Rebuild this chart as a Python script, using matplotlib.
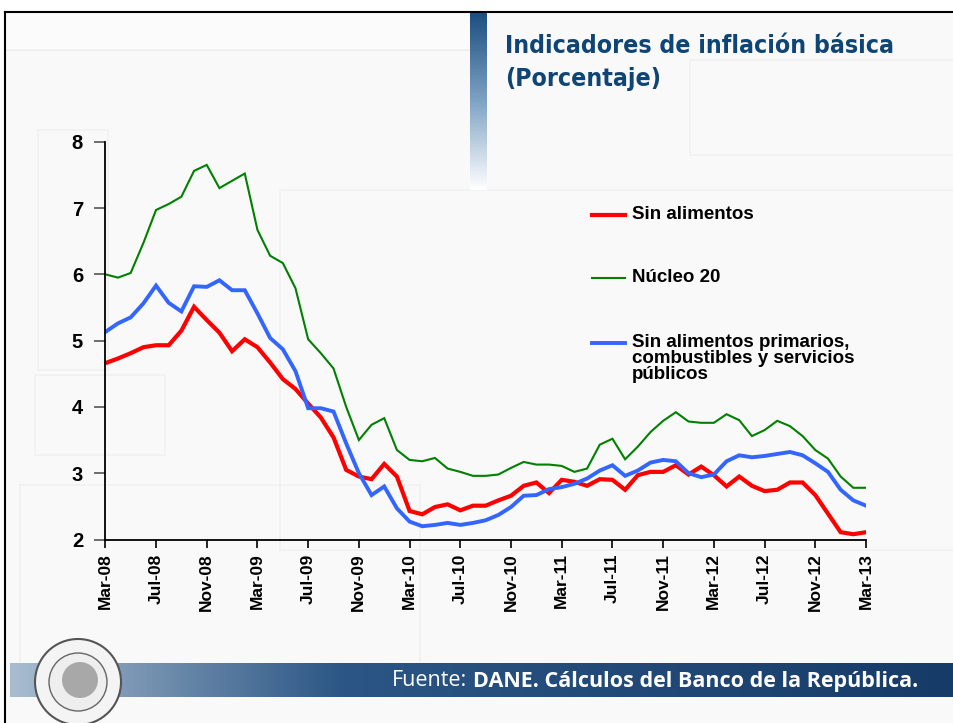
import numpy as np
import pandas as pd
import matplotlib
matplotlib.use("Agg")
import matplotlib.pyplot as plt
from matplotlib.patches import Rectangle, Circle
from matplotlib.lines import Line2D

# datos mensuales, mar-08 a mar-13 (porcentaje)
meses = pd.date_range("2008-03-01", periods=61, freq="MS").strftime("%b-%y").tolist()

sin_alimentos = [4.66, 4.73, 4.81, 4.90, 4.93, 4.93, 5.15, 5.51, 5.31, 5.12,
                 4.84, 5.02, 4.90, 4.67, 4.42, 4.27, 4.05, 3.84, 3.54, 3.05,
                 2.95, 2.91, 3.14, 2.95, 2.43, 2.38, 2.49, 2.53, 2.44, 2.51,
                 2.51, 2.59, 2.66, 2.81, 2.86, 2.70, 2.90, 2.87, 2.81, 2.91,
                 2.90, 2.75, 2.97, 3.02, 3.02, 3.12, 2.98, 3.10, 2.97, 2.80,
                 2.95, 2.81, 2.73, 2.75, 2.86, 2.86, 2.67, 2.39, 2.11, 2.08,
                 2.11]

nucleo_20 = [6.00, 5.95, 6.02, 6.47, 6.97, 7.06, 7.17, 7.56, 7.65, 7.30,
             7.41, 7.52, 6.67, 6.28, 6.17, 5.79, 5.02, 4.81, 4.58, 4.00,
             3.50, 3.73, 3.83, 3.35, 3.20, 3.18, 3.23, 3.07, 3.02, 2.96,
             2.96, 2.98, 3.08, 3.17, 3.13, 3.13, 3.11, 3.02, 3.07, 3.43,
             3.52, 3.21, 3.40, 3.62, 3.79, 3.92, 3.78, 3.76, 3.76, 3.89,
             3.80, 3.56, 3.65, 3.79, 3.71, 3.56, 3.35, 3.22, 2.95, 2.78,
             2.78]

sin_primarios = [5.13, 5.26, 5.35, 5.56, 5.83, 5.57, 5.44, 5.82, 5.81, 5.91,
                 5.76, 5.76, 5.41, 5.04, 4.87, 4.54, 3.98, 3.98, 3.93, 3.45,
                 3.00, 2.67, 2.80, 2.47, 2.27, 2.20, 2.22, 2.25, 2.22, 2.25,
                 2.29, 2.37, 2.49, 2.66, 2.67, 2.76, 2.79, 2.84, 2.92, 3.04,
                 3.12, 2.96, 3.04, 3.16, 3.20, 3.18, 3.00, 2.94, 2.98, 3.18,
                 3.27, 3.24, 3.26, 3.29, 3.32, 3.27, 3.15, 3.02, 2.75, 2.59,
                 2.51]

etiquetas = ["Sin alimentos", "Núcleo 20",
             "Sin alimentos primarios,\ncombustibles y servicios\npúblicos"]
colores = ["#ff0000", "#008000", "#3366ff"]
grosor = [3.0, 1.5, 2.8]

W, H = 954, 723
fig = plt.figure(figsize=(W / 100, H / 100), dpi=100)
fig.patch.set_facecolor("white")

# fondo de la diapositiva en coordenadas de pixel
bg = fig.add_axes([0, 0, 1, 1], zorder=-5)
bg.set_xlim(0, W)
bg.set_ylim(H, 0)
bg.axis("off")
bg.add_patch(Rectangle((5, 12), W - 5, H - 12, facecolor="#f9f9f9", edgecolor="none"))
bg.add_patch(Rectangle((5, 12), 465, 38, facecolor="#fbfbfb", edgecolor="none"))
for (x0, y0, w, h) in [(38, 130, 70, 240), (35, 375, 130, 80),
                       (280, 190, 674, 360), (690, 60, 264, 95), (20, 485, 400, 180)]:
    bg.add_patch(Rectangle((x0, y0), w, h, facecolor="none", edgecolor="#f1f1f1", lw=1.2))
bg.plot([5, 470], [50, 50], color="#eeeeee", lw=1.2)
bg.plot([5, 5], [12, H], color="black", lw=1.5)
bg.plot([5, W], [12, 12], color="black", lw=1.5)

# barra vertical con degradado
grad = np.linspace(0, 1, 200).reshape(-1, 1)
cm_bar = matplotlib.colors.LinearSegmentedColormap.from_list("b", ["#1c4f80", "#7fa3c4", "#ffffff"])
bg.imshow(grad, extent=(470, 487, 190, 13), cmap=cm_bar, aspect="auto", zorder=2)

# franja inferior con degradado
grad_h = np.linspace(0, 1, 400).reshape(1, -1)
cm_foot = matplotlib.colors.LinearSegmentedColormap.from_list(
    "f", [(0, "#a9bccf"), (0.35, "#2b5685"), (1, "#173b68")])
bg.imshow(grad_h, extent=(10, W, 697, 663), cmap=cm_foot, aspect="auto", zorder=2)
bg.set_xlim(0, W)
bg.set_ylim(H, 0)

# sello del banco (aproximado)
bg.add_patch(Circle((78, 682), 43, facecolor="#f4f4f4", edgecolor="#555555", lw=1.5, zorder=3))
bg.add_patch(Circle((78, 682), 29, facecolor="#eeeeee", edgecolor="#666666", lw=1.0, zorder=3))
bg.add_patch(Circle((80, 680), 18, facecolor="#a8a8a8", edgecolor="none", zorder=3))

# titulo
fig.text(505 / W, 1 - 46 / H, "Indicadores de inflación básica", family="DejaVu Sans",
         fontstretch="condensed", fontsize=17.8, fontweight="bold", color="#0f4575",
         va="center", ha="left")
fig.text(505 / W, 1 - 79 / H, "(Porcentaje)", family="DejaVu Sans",
         fontstretch="condensed", fontsize=17.8, fontweight="bold", color="#0f4575",
         va="center", ha="left")

# grafico principal
ax = fig.add_axes([105.3 / W, 1 - 539.5 / H, (866 - 105.3) / W, (539.5 - 141.7) / H])
ax.patch.set_alpha(0)
x = np.arange(len(meses))
for serie, col, lw in zip([sin_alimentos, nucleo_20, sin_primarios], colores, grosor):
    ax.plot(x, serie, color=col, lw=lw, solid_joinstyle="miter")

ax.set_xlim(0, len(meses) - 1)
ax.set_ylim(2, 8)
ax.set_yticks(range(2, 9))
ax.set_xticks(x[::4])
ax.set_xticklabels(meses[::4], rotation=90)
for lab in ax.get_xticklabels() + ax.get_yticklabels():
    lab.set_fontweight("bold")
    lab.set_family("Liberation Sans")
ax.tick_params(axis="x", labelsize=12.5, length=6, width=1.2, pad=4)
ax.tick_params(axis="y", labelsize=14.5, length=8, width=1.2, pad=8, color="#555555")
for s in ["top", "right"]:
    ax.spines[s].set_visible(False)
for s in ["left", "bottom"]:
    ax.spines[s].set_linewidth(1.3)

# leyenda
leg_y = [215, 278, 343]
for etq, col, lw, yy in zip(etiquetas, colores, grosor, leg_y):
    fig.add_artist(Line2D([592 / W, 625 / W], [1 - yy / H] * 2, color=col, lw=lw))
    fig.text(632 / W, 1 - (yy - 9) / H, etq, family="Liberation Sans", fontsize=13.5,
             fontweight="bold", va="top", ha="left", linespacing=0.92)

# fuente
fig.canvas.draw()
r = fig.canvas.get_renderer()
t_bold = fig.text(918 / W, 1 - 681 / H, "DANE. Cálculos del Banco de la República.",
                  family="Open Sans", fontsize=15.5, fontweight="bold", color="white",
                  ha="right", va="center")
bb = t_bold.get_window_extent(renderer=r)
fig.text(bb.x0 / W - 0.006, 1 - 681 / H, "Fuente:", family="Open Sans", fontsize=15.5,
         color="white", ha="right", va="center")

fig.savefig("out.png", dpi=100)
